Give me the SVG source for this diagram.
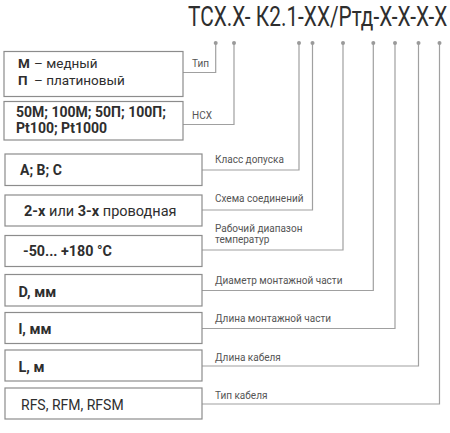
<svg xmlns="http://www.w3.org/2000/svg" width="450" height="433" viewBox="0 0 450 433">
<style>
.box{fill:#fff;stroke:#8c8c8c;stroke-width:1.2}
.ln{fill:none;stroke:#a0a0a0;stroke-width:1.2}
.dot{fill:#9a9a9a}
.t{font-family:Roboto,"Liberation Sans",sans-serif;fill:#2e2e2e}
.b{font-weight:700}
.lb{font-family:Roboto,"Liberation Sans",sans-serif;font-size:10px;fill:#555}
</style>
<rect width="450" height="433" fill="#fff"/>
<text class="t" transform="translate(188 26) scale(0.772 1)" x="0" y="0" font-size="27" fill="#333">ТСХ.Х- К2.1-ХХ/Ртд-Х-Х-Х-Х</text>
<g id="connectors">
<path class="ln" d="M215.7 43V72.5H183"/>
<path class="ln" d="M234 43V124.5H183"/>
<path class="ln" d="M299 43V170H202"/>
<path class="ln" d="M312.5 43V210H202"/>
<path class="ln" d="M343 43V250H202"/>
<path class="ln" d="M373.3 43V290.5H202"/>
<path class="ln" d="M395 43V328.5H202"/>
<path class="ln" d="M418.5 43V366H202"/>
<path class="ln" d="M439.5 43V404H202"/>
<circle class="dot" cx="215.7" cy="43" r="2"/>
<circle class="dot" cx="234" cy="43" r="2"/>
<circle class="dot" cx="299" cy="43" r="2"/>
<circle class="dot" cx="312.5" cy="43" r="2"/>
<circle class="dot" cx="343" cy="43" r="2"/>
<circle class="dot" cx="373.3" cy="43" r="2"/>
<circle class="dot" cx="395" cy="43" r="2"/>
<circle class="dot" cx="418.5" cy="43" r="2"/>
<circle class="dot" cx="439.5" cy="43" r="2"/>
<text class="lb" x="192" y="67">Тип</text>
<text class="lb" x="192" y="118.5">НСХ</text>
<text class="lb" x="215" y="163">Класс допуска</text>
<text class="lb" x="215" y="202">Схема соединений</text>
<text class="lb" x="215" y="232">Рабочий диапазон</text>
<text class="lb" x="215" y="242.5">температур</text>
<text class="lb" x="215" y="284">Диаметр монтажной части</text>
<text class="lb" x="215" y="321.5">Длина монтажной части</text>
<text class="lb" x="215" y="360.5">Длина кабеля</text>
<text class="lb" x="215" y="398.5">Тип кабеля</text>
</g>
<g id="n1">
<rect class="box" x="4" y="51.5" width="179" height="45"/>
<text class="t b" x="18" y="68" font-size="13.5">М</text>
<text class="t" x="34" y="68" font-size="13.5">– медный</text>
<text class="t b" x="18" y="85" font-size="13.5">П</text>
<text class="t" x="34" y="85" font-size="13.5">– платиновый</text>
</g>
<g id="n2">
<rect class="box" x="4" y="101.5" width="179" height="38.5"/>
<text class="t b" x="16" y="116.5" font-size="14">50М; 100М; 50П; 100П;</text>
<text class="t b" x="16" y="132.5" font-size="14">Pt100; Pt1000</text>
</g>
<g id="n3">
<rect class="box" x="5" y="154" width="197" height="31.5"/>
<text class="t b" x="20" y="175" font-size="14">A; B; C</text>
</g>
<g id="n4">
<rect class="box" x="5" y="195" width="197" height="31"/>
<text class="t" x="24" y="216" font-size="14.5"><tspan class="b">2-х</tspan> или <tspan class="b">3-х</tspan> проводная</text>
</g>
<g id="n5">
<rect class="box" x="5" y="235.5" width="197" height="31"/>
<text class="t b" x="23" y="256" font-size="14.3">-50... +180 °C</text>
</g>
<g id="n6">
<rect class="box" x="5" y="274.5" width="197" height="31.5"/>
<text class="t b" x="18.5" y="296.5" font-size="14.5">D, мм</text>
</g>
<g id="n7">
<rect class="box" x="5" y="312.5" width="197" height="31"/>
<text class="t b" x="18.5" y="334" font-size="14.5">l, мм</text>
</g>
<g id="n8">
<rect class="box" x="5" y="350" width="197" height="31"/>
<text class="t b" x="18.5" y="371.5" font-size="14.5">L, м</text>
</g>
<g id="n9">
<rect class="box" x="5" y="388" width="197" height="31"/>
<text class="t" x="21" y="409.5" font-size="14">RFS, RFM, RFSM</text>
</g>
</svg>
